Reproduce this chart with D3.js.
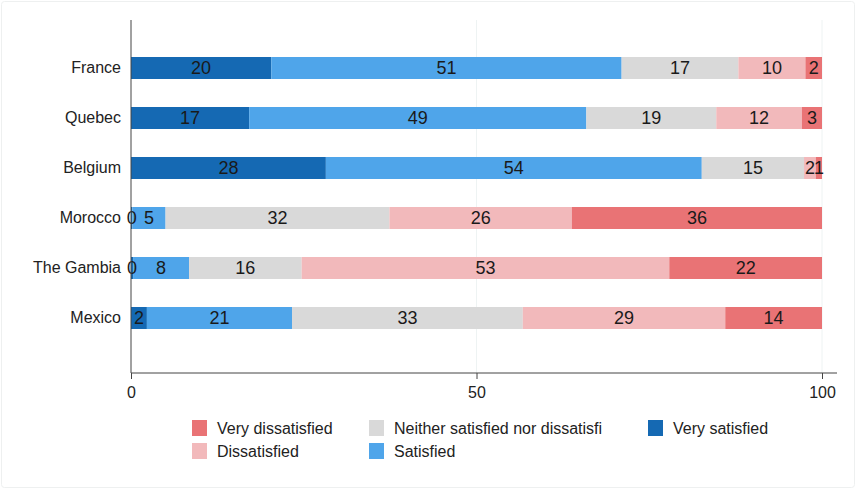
<!DOCTYPE html>
<html><head><meta charset="utf-8">
<script src="https://cdn.jsdelivr.net/npm/d3@7"></script>
<style>body{margin:0;background:#fff;}svg{display:block;font-family:"Liberation Sans",Arial,sans-serif;}</style>
</head><body>
<svg id="chart" width="856" height="489"></svg>
<script>
const countries = ["France","Quebec","Belgium","Morocco","The Gambia","Mexico"];
const seriesNames = ["Very satisfied","Satisfied","Neither satisfied nor dissatisfi","Dissatisfied","Very dissatisfied"];
// shares in percent (labels shown rounded)
const verySatisfied    = [20.3,17.1,28.2,0.2,0.3,2.3];
const satisfied        = [50.7,48.8,54.4,4.8,8.1,21.0];
const neither          = [16.9,18.8,14.8,32.4,16.3,33.4];
const dissatisfied     = [9.7,12.4,1.7,26.4,53.2,29.3];
const veryDissatisfied = [2.4,2.9,0.9,36.2,22.1,14.0];
const xTicks = [0,50,100];
const colors = ["#1569b3","#4fa5ea","#d9d9d9","#f2b9bb","#e97375"];
const legendOrder = [4,2,0,3,1];

const seriesValues = [verySatisfied,satisfied,neither,dissatisfied,veryDissatisfied];
const rows = countries.map((c,i)=>{const r={country:c}; seriesNames.forEach((s,k)=>r[s]=seriesValues[k][i]); return r;});
const stack = d3.stack().keys(seriesNames)(rows);

const svg = d3.select("#chart");
svg.append("rect").attr("x",1.5).attr("y",1.5).attr("width",853).attr("height",486).attr("rx",3)
  .attr("fill","#fff").attr("stroke","#eef0f0");

const x = d3.scaleLinear().domain([0,100]).range([131,822]);
const y = d3.scaleBand().domain(countries).range([43,343]).paddingInner(28/50).paddingOuter(14/50);

// gridlines
svg.append("g").selectAll("line").data(xTicks.filter(t=>t>0)).join("line")
  .attr("x1",d=>x(d)).attr("x2",d=>x(d)).attr("y1",20).attr("y2",373)
  .attr("stroke","#eef3f3").attr("stroke-width",1);

// bars
const g = svg.append("g");
stack.forEach((layer,k)=>{
  g.append("g").selectAll("rect").data(layer).join("rect")
    .attr("x",d=>x(d[0])).attr("width",d=>x(d[1])-x(d[0]))
    .attr("y",(d,i)=>y(countries[i])).attr("height",y.bandwidth())
    .attr("fill",colors[k]);
});
stack.forEach((layer,k)=>{
  g.append("g").selectAll("text").data(layer).join("text")
    .attr("x",d=>(x(d[0])+x(d[1]))/2)
    .attr("y",(d,i)=>y(countries[i])+y.bandwidth()/2)
    .attr("dy","0.36em").attr("text-anchor","middle")
    .attr("font-size",18).attr("fill","#1a1a1a")
    .text(d=>Math.round(d[1]-d[0]));
});

// axes
const yAxis = svg.append("g").attr("transform","translate(131,0)")
  .call(d3.axisLeft(y).tickSize(0).tickPadding(10));
yAxis.select(".domain").remove();
yAxis.selectAll("text").attr("font-size",16).attr("fill","#222").attr("font-family","Liberation Sans, Arial, sans-serif");
svg.append("line").attr("x1",131).attr("x2",131).attr("y1",20).attr("y2",373).attr("stroke","#444").attr("stroke-width",1);

const xAxis = svg.append("g").attr("transform","translate(0,373)")
  .call(d3.axisBottom(x).tickValues(xTicks).tickSize(6).tickPadding(8));
xAxis.select(".domain").remove();
xAxis.selectAll(".tick line").attr("stroke","#444");
xAxis.selectAll("text").attr("font-size",16).attr("fill","#222").attr("font-family","Liberation Sans, Arial, sans-serif");
svg.append("line").attr("x1",131).attr("x2",837).attr("y1",373).attr("y2",373).attr("stroke","#444").attr("stroke-width",1);

// legend
const colX = [192,369,648];
const rowY = [420,443];
const leg = svg.append("g");
legendOrder.forEach((k,i)=>{
  const cx = colX[i%3], cy = rowY[Math.floor(i/3)];
  leg.append("rect").attr("x",cx).attr("y",cy).attr("width",15).attr("height",16).attr("fill",colors[k]);
  leg.append("text").attr("x",cx+25).attr("y",cy+8).attr("dy","0.36em")
    .attr("font-size",16).attr("fill","#222").text(seriesNames[k]);
});
</script>
</body></html>
